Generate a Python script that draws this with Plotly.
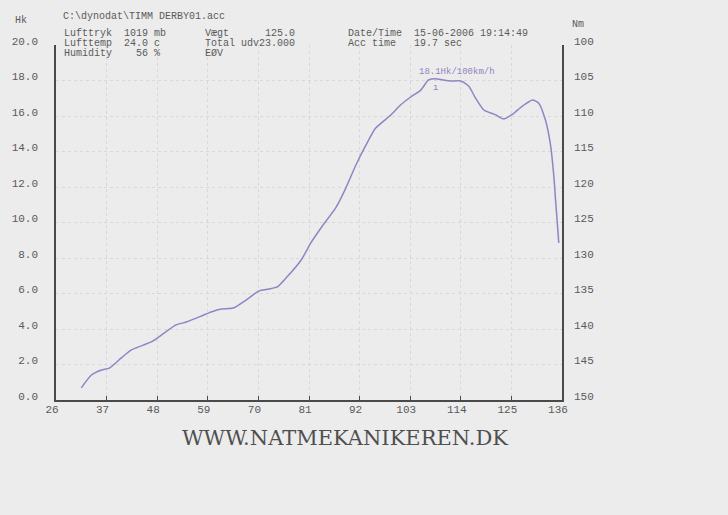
import plotly.graph_objects as go

# Data
rpm = [31.5, 33.7, 35.9, 37.6, 40.2, 42.4, 46.7, 48.9, 52.1, 54.3, 57.6, 59.7, 61.9, 64.5,
       67.3, 70.1, 72.3, 74.1, 76.0, 79.3, 81.4, 83.6, 86.9, 89.0, 91.2, 93.4, 95.5, 98.8,
       100.9, 103.1, 105.3, 107.0, 108.5, 110.1, 111.8, 114.0, 115.7, 117.2, 119.0, 121.6,
       123.3, 125.3, 127.4, 129.6, 130.9, 132.4, 133.5, 134.2, 134.6, 135.3]
hk = [0.68, 1.41, 1.69, 1.80, 2.37, 2.82, 3.27, 3.66, 4.23, 4.39, 4.73, 4.96, 5.13, 5.18,
      5.63, 6.14, 6.25, 6.37, 6.87, 7.89, 8.85, 9.69, 10.87, 11.94, 13.24, 14.37, 15.32, 16.06,
      16.62, 17.07, 17.46, 18.03, 18.10, 18.03, 17.97, 17.97, 17.69, 17.01, 16.34, 16.06,
      15.83, 16.11, 16.56, 16.90, 16.73, 15.77, 14.37, 12.68, 11.27, 8.85]

x_ticks = [26, 37, 48, 59, 70, 81, 92, 103, 114, 125, 136]
hk_ticks = [0, 2, 4, 6, 8, 10, 12, 14, 16, 18, 20]
hk_labels = ["0.0", "2.0", "4.0", "6.0", "8.0", "10.0", "12.0", "14.0", "16.0", "18.0", "20.0"]
nm_ticks = [100, 105, 110, 115, 120, 125, 130, 135, 140, 145, 150]

peak_label = "18.1Hk/100km/h"
header_left = ["Lufttryk  1019 mb", "Lufttemp  24.0 c", "Humidity    56 %"]
header_mid = ["Vægt      125.0", "Total udv23.000", "EØV"]
header_right = ["Date/Time  15-06-2006 19:14:49", "Acc time   19.7 sec"]
file_name = "C:\\dynodat\\TIMM DERBY01.acc"
watermark = "WWW.NATMEKANIKEREN.DK"

MONO = "Liberation Mono"
BG = "#ececec"
TXT = "#5a5a5a"
W, H = 728, 515
L, R, T, B = 54, 166, 45, 115
PW, PH = W - L - R, H - T - B

fig = go.Figure()
fig.add_trace(go.Scatter(x=rpm, y=hk, mode="lines",
                         line=dict(color="#9482c4", width=1.5, shape="spline", smoothing=0.6),
                         showlegend=False, hoverinfo="skip"))
# invisible trace to activate the right (Nm) axis
fig.add_trace(go.Scatter(x=[26], y=[150], yaxis="y2", mode="markers",
                         marker=dict(opacity=0), showlegend=False, hoverinfo="skip"))

fig.update_layout(
    width=W, height=H,
    margin=dict(l=L, r=R, t=T, b=B),
    paper_bgcolor=BG, plot_bgcolor=BG,
    xaxis=dict(range=[26, 136], tickvals=x_ticks, ticktext=[str(v) for v in x_ticks],
               showline=True, linecolor="#4a4a4a", linewidth=1.5,
               showgrid=True, gridcolor="#d8d8d8", griddash="dot", gridwidth=1,
               ticks="inside", ticklen=4, tickcolor="#4a4a4a",
               tickfont=dict(family=MONO, size=11, color=TXT),
               ticklabelshift=-4, ticklabelstandoff=-2, zeroline=False),
    yaxis=dict(range=[0, 20], tickvals=hk_ticks, ticktext=hk_labels,
               showline=True, linecolor="#4a4a4a", linewidth=1.5,
               showgrid=True, gridcolor="#d8d8d8", griddash="dot", gridwidth=1,
               ticks="", ticklabelstandoff=14, ticklabelshift=-4,
               tickfont=dict(family=MONO, size=11, color=TXT), zeroline=False),
    yaxis2=dict(range=[150, 100], tickvals=nm_ticks, overlaying="y", side="right",
                showline=True, linecolor="#4a4a4a", linewidth=1.5, showgrid=False,
                ticks="", ticklabelstandoff=8, ticklabelshift=4,
                tickfont=dict(family=MONO, size=11, color=TXT), zeroline=False),
)


def pix(xp, yp, text, size=10, anchor="left", color=TXT, family=MONO):
    return dict(text=text, x=(xp - L) / PW, y=(H - B - yp) / PH, xref="paper", yref="paper",
                xanchor=anchor, yanchor="middle", showarrow=False, borderpad=0,
                font=dict(family=family, size=size, color=color))


annotations = [
    pix(12, 20, "Hk", 10),
    pix(571, 24, "Nm", 10),
    pix(60, 16, file_name, 10),
]
for i, t in enumerate(header_left):
    annotations.append(pix(61, 33 + i * 10.5, t, 10))
for i, t in enumerate(header_mid):
    annotations.append(pix(203, 33 + i * 10.5, t, 10))
for i, t in enumerate(header_right):
    annotations.append(pix(346, 33 + i * 10.5, t, 10))
annotations.append(pix(344, 438, watermark, 21, anchor="center", color="#4f4f4f",
                       family="DejaVu Serif"))

ipk = max(range(len(hk)), key=lambda i: hk[i])
annotations.append(dict(text=peak_label, x=rpm[ipk] - 4, y=hk[ipk], xref="x", yref="y",
                        xanchor="left", yanchor="bottom", showarrow=False,
                        font=dict(family=MONO, size=9, color="#9482c4")))
annotations.append(dict(text="ı", x=rpm[ipk], y=hk[ipk] - 0.15, xref="x", yref="y",
                        xanchor="center", yanchor="top", showarrow=False,
                        font=dict(family=MONO, size=9, color="#9482c4")))
fig.update_layout(annotations=annotations)

fig.write_html("out.html", config={"displayModeBar": False},
               post_script="document.body.style.margin='0';")
